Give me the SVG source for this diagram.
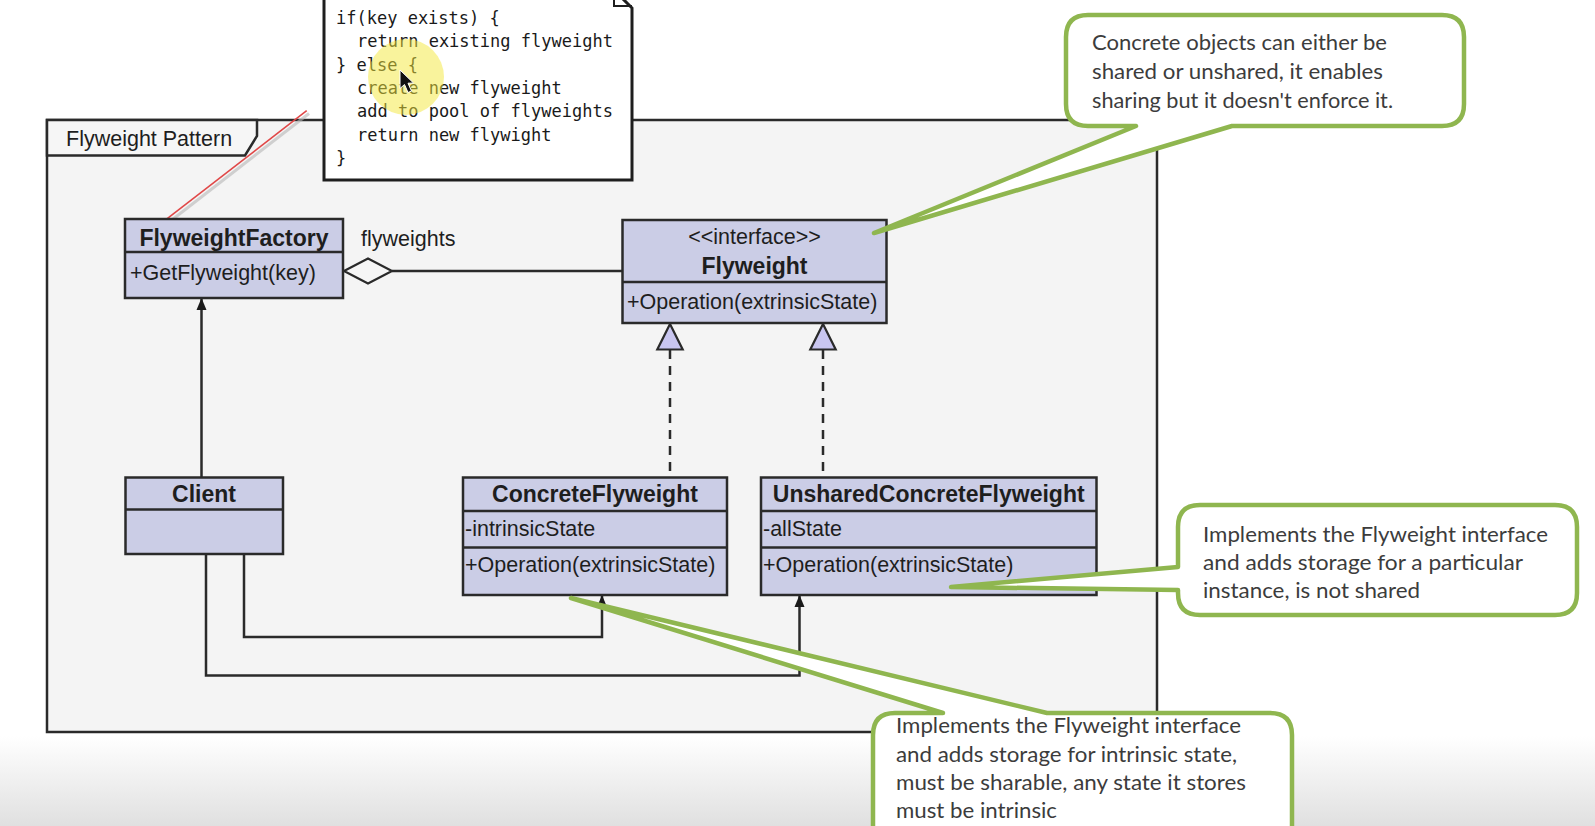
<svg xmlns="http://www.w3.org/2000/svg" width="1595" height="826" viewBox="0 0 1595 826">
<defs>
<style>
.uml{font-family:"Liberation Sans",Arial,sans-serif;font-size:21.5px;fill:#1e1e1e}
.b{font-weight:bold;font-size:23px}
.mid{text-anchor:middle}
.mono{font-family:"DejaVu Sans Mono","Liberation Mono",monospace;font-size:17px;fill:#1a1a1a}
.call{font-family:Lato,"Open Sans",sans-serif;font-size:21px;fill:#3c3c3c}
.box{fill:#cbcde6;stroke:#2a2a2a;stroke-width:2.5}
.div{stroke:#2a2a2a;stroke-width:2.5}
.ln{fill:none;stroke:#2a2a2a;stroke-width:2.5}
.dash{fill:none;stroke:#2a2a2a;stroke-width:2.5;stroke-dasharray:9 7}
.callout{fill:#ffffff;stroke:#8fb64f;stroke-width:4.5;stroke-linejoin:round}
</style>
<marker id="arr" viewBox="0 0 12 12" refX="12" refY="6" markerWidth="12" markerHeight="12" markerUnits="userSpaceOnUse" orient="auto">
<path d="M0,1 L12,6 L0,11 Z" fill="#1a1a1a"/>
</marker>
<linearGradient id="bot" x1="0" y1="0" x2="0" y2="1">
<stop offset="0" stop-color="#ffffff"/>
<stop offset="1" stop-color="#e0e0e0"/>
</linearGradient>
</defs>
<rect x="0" y="0" width="1595" height="826" fill="#ffffff"/>
<rect x="0" y="736" width="1595" height="90" fill="url(#bot)"/>

<g id="frame">
<rect x="47" y="120" width="1110" height="612" fill="#f4f4f4" stroke="#2a2a2a" stroke-width="2.5"/>
<path d="M47,120 H257 V136 L245,155.5 H47 Z" fill="#f6f6f6" stroke="#2a2a2a" stroke-width="2.5"/>
<text class="uml" x="66" y="146">Flyweight Pattern</text>
</g>

<g id="note-link">
<line x1="309" y1="113.5" x2="166" y2="224.5" stroke="#b8b8b8" stroke-width="3" opacity="0.6"/>
<line x1="306.7" y1="110.7" x2="163.3" y2="221.7" stroke="#e04848" stroke-width="1.6"/>
</g>

<g id="note">
<path d="M324,-10 H614 L632,8 V180 H324 Z" fill="#ffffff" stroke="#1e1e1e" stroke-width="3"/>
<path d="M614,-10 V6 H632" fill="none" stroke="#1e1e1e" stroke-width="2"/>
<text class="mono" x="336" y="24">if(key exists) {</text>
<text class="mono" x="357" y="47.3">return existing flyweight</text>
<text class="mono" x="336" y="70.6">} else {</text>
<text class="mono" x="357" y="94">create new flyweight</text>
<text class="mono" x="357" y="117.3">add to pool of flyweights</text>
<text class="mono" x="357" y="140.6">return new flywight</text>
<text class="mono" x="336" y="164">}</text>
<circle cx="406" cy="77" r="38" fill="#f3e83a" opacity="0.5"/>
<path d="M400,70 V88.5 L404.5,84.5 L408,92.5 L411.5,91 L408,83.2 L413.5,83 Z" fill="#111" stroke="#fff" stroke-width="1"/>
</g>

<g id="connectors">
<line class="ln" x1="201.5" y1="477" x2="201.5" y2="298" marker-end="url(#arr)"/>
<polyline class="ln" points="244,554 244,637 602,637 602,595" marker-end="url(#arr)"/>
<polyline class="ln" points="206,554 206,675.5 799.5,675.5 799.5,595" marker-end="url(#arr)"/>
<line class="ln" x1="392" y1="271" x2="622.5" y2="271"/>
<polygon points="344,271 368,258.5 392,271 368,283.5" fill="#f6f6f6" stroke="#2a2a2a" stroke-width="2.2"/>
<text class="uml" x="361" y="246">flyweights</text>
<line class="dash" x1="670" y1="350" x2="670" y2="477"/>
<line class="dash" x1="823" y1="350" x2="823" y2="477"/>
<polygon points="670,324 682.7,349.5 657.3,349.5" fill="#c9c6f0" stroke="#2a2a2a" stroke-width="2.2"/>
<polygon points="823,324 835.7,349.5 810.3,349.5" fill="#c9c6f0" stroke="#2a2a2a" stroke-width="2.2"/>
</g>

<g id="FlyweightFactory">
<rect class="box" x="125" y="219" width="218" height="79"/>
<line class="div" x1="125" y1="252" x2="343" y2="252"/>
<text class="uml b mid" x="234" y="245.5">FlyweightFactory</text>
<text class="uml" x="130" y="280">+GetFlyweight(key)</text>
</g>

<g id="Flyweight">
<rect class="box" x="622.5" y="220" width="264" height="103"/>
<line class="div" x1="622.5" y1="282" x2="886.5" y2="282"/>
<text class="uml mid" x="754.5" y="244">&lt;&lt;interface&gt;&gt;</text>
<text class="uml b mid" x="754.5" y="274">Flyweight</text>
<text class="uml" x="627" y="309">+Operation(extrinsicState)</text>
</g>

<g id="Client">
<rect class="box" x="125.5" y="477.5" width="157.5" height="76.5"/>
<line class="div" x1="125.5" y1="509.5" x2="283" y2="509.5"/>
<text class="uml b mid" x="204" y="501.5">Client</text>
</g>

<g id="ConcreteFlyweight">
<rect class="box" x="463" y="477.5" width="264" height="117.5"/>
<line class="div" x1="463" y1="511" x2="727" y2="511"/>
<line class="div" x1="463" y1="547.5" x2="727" y2="547.5"/>
<text class="uml b mid" x="595" y="501.5">ConcreteFlyweight</text>
<text class="uml" x="465" y="535.5">-intrinsicState</text>
<text class="uml" x="465" y="572">+Operation(extrinsicState)</text>
</g>

<g id="UnsharedConcreteFlyweight">
<rect class="box" x="761" y="477.5" width="335.5" height="117.5"/>
<line class="div" x1="761" y1="511" x2="1096.5" y2="511"/>
<line class="div" x1="761" y1="547.5" x2="1096.5" y2="547.5"/>
<text class="uml b mid" x="928.7" y="501.5">UnsharedConcreteFlyweight</text>
<text class="uml" x="763" y="535.5">-allState</text>
<text class="uml" x="763" y="572">+Operation(extrinsicState)</text>
</g>

<g id="callout-shared">
<path class="callout" d="M1088,15 H1442 Q1464,15 1464,37 V104 Q1464,126 1442,126 H1232 L874,233 L1136,126 H1088 Q1066,126 1066,104 V37 Q1066,15 1088,15 Z"/>
<text class="call" x="1092" y="50" textLength="295" lengthAdjust="spacingAndGlyphs">Concrete objects can either be</text>
<text class="call" x="1092" y="79" textLength="291" lengthAdjust="spacingAndGlyphs">shared or unshared, it enables</text>
<text class="call" x="1092" y="108" textLength="301" lengthAdjust="spacingAndGlyphs">sharing but it doesn't enforce it.</text>
</g>

<g id="callout-unshared">
<path class="callout" d="M1200,505 H1555 Q1577,505 1577,527 V593 Q1577,615 1555,615 H1200 Q1178,615 1178,593 V590 L951,587 L1178,567 V527 Q1178,505 1200,505 Z"/>
<text class="call" x="1203" y="542" textLength="345" lengthAdjust="spacingAndGlyphs">Implements the Flyweight interface</text>
<text class="call" x="1203" y="570" textLength="320" lengthAdjust="spacingAndGlyphs">and adds storage for a particular</text>
<text class="call" x="1203" y="598" textLength="217" lengthAdjust="spacingAndGlyphs">instance, is not shared</text>
</g>

<g id="callout-concrete">
<path class="callout" d="M895,713 H943 L571,598 L1047,713 H1270 Q1292,713 1292,735 V860 H873 V735 Q873,713 895,713 Z"/>
<text class="call" x="896" y="733" textLength="345" lengthAdjust="spacingAndGlyphs">Implements the Flyweight interface</text>
<text class="call" x="896" y="762" textLength="341" lengthAdjust="spacingAndGlyphs">and adds storage for intrinsic state,</text>
<text class="call" x="896" y="790" textLength="350" lengthAdjust="spacingAndGlyphs">must be sharable, any state it stores</text>
<text class="call" x="896" y="818" textLength="161" lengthAdjust="spacingAndGlyphs">must be intrinsic</text>
</g>
</svg>
